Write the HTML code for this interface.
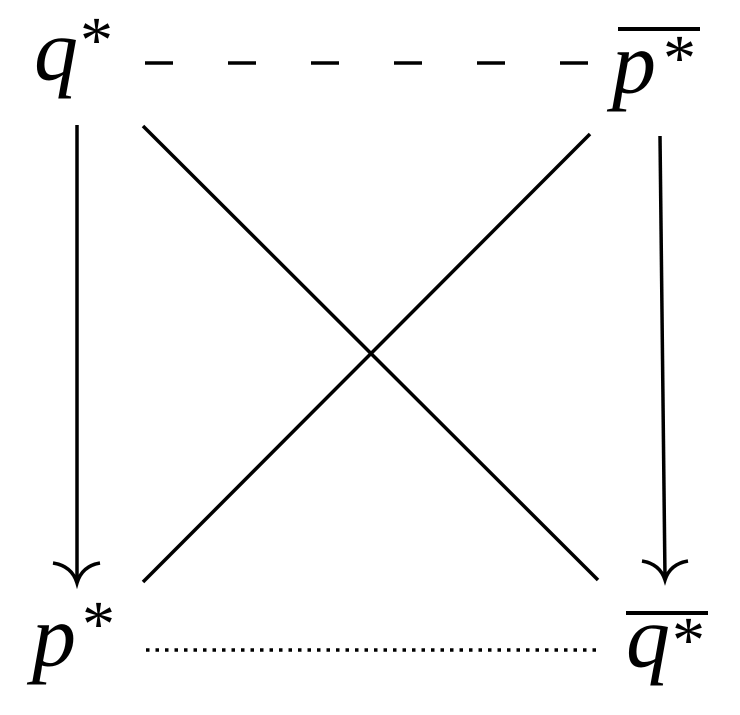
<!DOCTYPE html>
<html><head><meta charset="utf-8"><style>
html,body{margin:0;padding:0;background:#fff;}
svg{display:block}
</style></head><body>
<svg width="740" height="715" viewBox="0 0 740 715" xmlns="http://www.w3.org/2000/svg" font-family="'Liberation Serif','DejaVu Serif',serif">
<g font-style="italic" font-size="88" fill="#000">
<text x="34" y="80">q</text>
<text x="612" y="93">p</text>
<text x="32" y="666">p</text>
<text x="626" y="667">q</text>
</g>
<g font-size="66" fill="#000">
<text x="80" y="62">*</text>
<text x="663" y="80">*</text>
<text x="82" y="646">*</text>
<text x="672" y="662">*</text>
</g>
<line x1="618" y1="29" x2="700" y2="29" stroke="#000" stroke-width="4"/>
<line x1="626" y1="613" x2="708" y2="613" stroke="#000" stroke-width="4"/>
<line x1="145" y1="63" x2="592" y2="63" stroke="#000" stroke-width="3.5" stroke-dasharray="28,55"/>
<line x1="146" y1="650" x2="598" y2="650" stroke="#000" stroke-width="3.5" stroke-dasharray="3.5,6"/>
<line x1="77" y1="125" x2="77" y2="582" stroke="#000" stroke-width="3.5"/>
<path d="M53 563 Q72 566 77 583 Q82 566 100 563" fill="none" stroke="#000" stroke-width="3.5"/>
<line x1="660" y1="136" x2="665" y2="578" stroke="#000" stroke-width="3.5"/>
<path d="M642 561 Q660 564 665 580 Q670 564 688 561" fill="none" stroke="#000" stroke-width="3.5"/>
<line x1="143" y1="126" x2="598" y2="580" stroke="#000" stroke-width="3.5"/>
<line x1="590" y1="134" x2="143" y2="582" stroke="#000" stroke-width="3.5"/>
</svg>
</body></html>
